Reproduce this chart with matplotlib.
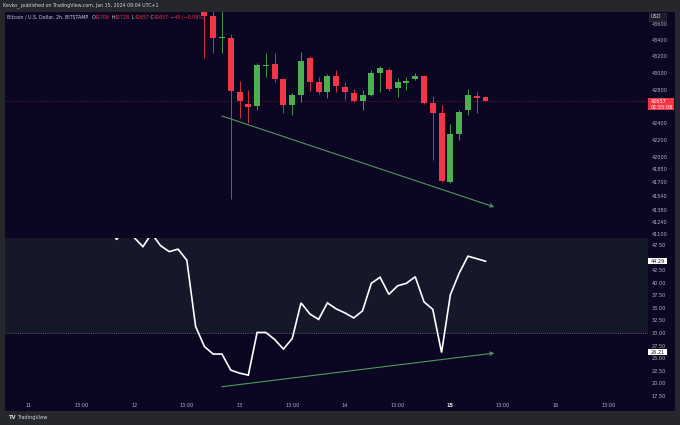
import matplotlib
matplotlib.use('Agg')
import matplotlib.pyplot as plt
from matplotlib.patches import Rectangle
from matplotlib.ticker import NullLocator, NullFormatter

# ---------------- data ----------------
candle_idx = list(range(-4, 29))
opens  = [43850, 43694, 43421, 43428, 42767, 42623, 42602, 43090, 43105, 42923, 42614, 42734,
          43177, 42887, 42774, 42963, 42834, 42762, 42662, 42734, 42996, 43036, 42814, 42883,
          42927, 42967, 42635, 42517, 41700, 42265, 42554, 42722, 42709]
highs  = [44000, 43760, 43780, 43473, 42903, 42794, 43120, 43245, 43238, 42938, 42762, 43258,
          43205, 42955, 42987, 43036, 42890, 42802, 42794, 43036, 43084, 43060, 42935, 42955,
          42996, 42975, 42722, 42614, 42384, 42554, 42802, 42774, 42728]
lows   = [43181, 43238, 43242, 41500, 42459, 42396, 42554, 42955, 42887, 42517, 42496, 42654,
          42782, 42743, 42702, 42774, 42674, 42650, 42554, 42722, 42767, 42780, 42714, 42794,
          42920, 42627, 41961, 41702, 41690, 42198, 42496, 42517, 42657]
closes = [43694, 43428, 43433, 42782, 42662, 42594, 43096, 43096, 42923, 42614, 42734, 43145,
          42895, 42774, 42963, 42843, 42774, 42662, 42734, 42996, 43064, 42802, 42895, 42907,
          42967, 42635, 42517, 41714, 42265, 42535, 42734, 42702, 42657]

rsi_idx = list(range(-15, 29))
rsi = [52.0, 48.6, 51.0, 49.0, 47.2, 49.8, 47.4, 46.2, 46.7, 44.5, 31.3, 27.3, 25.8, 25.8,
       22.6, 22.0, 21.6, 30.1, 30.1, 28.7, 26.8, 28.9, 36.0, 33.8, 32.7, 36.0, 34.8, 34.0,
       33.0, 34.4, 39.9, 41.1, 37.7, 39.4, 39.9, 41.2, 36.2, 34.7, 26.1, 37.6, 41.9, 45.3,
       44.8, 44.29]

price_trend = [(-2.0, 42483), (29.0, 41411)]
rsi_trend = [(-2.0, 19.3), (29.0, 26.0)]

price_ticks = [43600, 43400, 43200, 43000, 42800, 42400, 42200, 42000, 41850, 41700,
               41540, 41380, 41240, 41100]
rsi_ticks = [47.5, 42.5, 40.0, 37.5, 35.0, 32.5, 30.0, 27.5, 25.0, 22.5, 20.0, 17.5]
time_pos = [-24, -18, -12, -6, 0, 6, 12, 18, 24, 30, 36, 42]
time_labels = ['11', '13:00', '12', '13:00', '13', '13:00', '14', '13:00', '15', '13:00',
               '16', '13:00']

last_price = 42657
last_rsi = 44.29
trend_rsi_label = 26.21

# ---------------- style ----------------
W, H = 680, 425
BG = '#0b0622'
OUTER = '#25272d'
RED = '#f23645'
GREEN = '#4caf50'
TREND = '#4f9a5c'
TXT = '#b2b5be'
FS = 3.6

fig = plt.figure(figsize=(W / 100, H / 100), dpi=100)
fig.patch.set_facecolor(OUTER)

def fr(x0, y0, x1, y1):
    return (x0 / W, 1 - y1 / H, (x1 - x0) / W, (y1 - y0) / H)

fx0, fy0, fw, fh = fr(5, 12, 675, 410.7)
fig.patches.append(Rectangle((fx0, fy0), fw, fh, transform=fig.transFigure,
                             facecolor=BG, edgecolor='none', zorder=-5))

XL = (-26.7, 46.5)

# ---- price pane ----
ax1 = fig.add_axes(fr(5, 12, 648, 237.5))
ax1.set_facecolor('none')
ax1.set_yscale('log')
ax1.set_xlim(*XL)
ax1.set_ylim(41057, 43743)
for s in ax1.spines.values():
    s.set_visible(False)
ax1.set_xticks([])
ax1.yaxis.tick_right()
ax1.set_yticks(price_ticks)
ax1.set_yticklabels([str(t) for t in price_ticks])
ax1.yaxis.set_minor_locator(NullLocator())
ax1.yaxis.set_minor_formatter(NullFormatter())
ax1.tick_params(axis='y', length=0, pad=2.8, labelsize=FS, colors=TXT)

ax1.axhline(last_price, color=RED, lw=0.5, ls=(0, (1, 1.5)), alpha=0.55, zorder=1)

for x, o, h, l, c in zip(candle_idx, opens, highs, lows, closes):
    col = GREEN if c >= o else RED
    ax1.vlines(x, l, h, color=col, lw=0.6, zorder=2)
    bot = min(o, c)
    ht = max(abs(c - o), 10)
    ax1.bar(x, ht, bottom=bot, width=0.68, color=col, edgecolor='none', zorder=3)

ax1.annotate('', xy=price_trend[1], xytext=price_trend[0],
             arrowprops=dict(arrowstyle='->', color=TREND, lw=0.8,
                             shrinkA=0, shrinkB=0, mutation_scale=6), zorder=4)

# ---- RSI pane ----
ax2 = fig.add_axes(fr(5, 238, 648, 400))
ax2.set_facecolor('none')
ax2.set_xlim(*XL)
ax2.set_ylim(16.65, 48.92)
for s in ax2.spines.values():
    s.set_visible(False)
ax2.axhspan(30, 70, color='#151829', zorder=0, lw=0)
ax2.axhline(30, color='#787b86', lw=0.5, ls=(0, (1.5, 1.5)), zorder=1)
ax2.yaxis.tick_right()
ax2.set_yticks(rsi_ticks)
ax2.set_yticklabels(['%.2f' % t for t in rsi_ticks])
ax2.tick_params(axis='y', length=0, pad=2.8, labelsize=FS, colors=TXT)
ax2.set_xticks(time_pos)
ax2.set_xticklabels(time_labels)
ax2.tick_params(axis='x', length=0, pad=2.3, labelsize=FS, colors=TXT)
for lab in ax2.get_xticklabels():
    if lab.get_text() == '15':
        lab.set_color('#e0e3eb')
        lab.set_fontweight('bold')

ax2.plot(rsi_idx, rsi, color='white', lw=1.2, zorder=3, solid_joinstyle='miter')
ax2.annotate('', xy=rsi_trend[1], xytext=rsi_trend[0],
             arrowprops=dict(arrowstyle='->', color=TREND, lw=0.8,
                             shrinkA=0, shrinkB=0, mutation_scale=6), zorder=4)

# ---------------- axis badges ----------------
def py_price(p):
    disp = ax1.transData.transform((0, p))
    return H - disp[1]

def py_rsi(v):
    disp = ax2.transData.transform((0, v))
    return H - disp[1]

# current price badge
yc = py_price(last_price)
bx, by, bw, bh = fr(648, yc - 3.2, 674, yc + 9)
fig.patches.append(Rectangle((bx, by), bw, bh, transform=fig.transFigure,
                             facecolor=RED, edgecolor='none', zorder=5))
fig.text(650.5 / W, 1 - yc / H, str(last_price), color='white', fontsize=FS,
         va='center', ha='left', zorder=6)
fig.text(650.5 / W, 1 - (yc + 6) / H, '01:55:08', color='white', fontsize=FS,
         va='center', ha='left', zorder=6)

# RSI badges
for v in (last_rsi, trend_rsi_label):
    yv = py_rsi(v)
    bx, by, bw, bh = fr(648, yv - 3, 667, yv + 3)
    fig.patches.append(Rectangle((bx, by), bw, bh, transform=fig.transFigure,
                                 facecolor='white', edgecolor='none', zorder=5))
    fig.text(650.5 / W, 1 - yv / H, '%.2f' % v, color='#131722', fontsize=FS,
             va='center', ha='left', zorder=6)

# USD box
bx, by, bw, bh = fr(649, 12.5, 666, 20.8)
fig.patches.append(Rectangle((bx, by), bw, bh, transform=fig.transFigure,
                             facecolor='#1c1b2a', edgecolor='#3a3a48', lw=0.4, zorder=5))
fig.text(651 / W, 1 - 16.6 / H, 'USD', color='#d1d4dc', fontsize=FS, va='center',
         ha='left', zorder=6)

# ---------------- header texts ----------------
fig.text(3 / W, 1 - 5.5 / H, 'Kevko_ published on TradingView.com, Jan 15, 2024 09:04 UTC+1',
         color='#d1d4dc', fontsize=3.4, va='center', ha='left')

fig.canvas.draw()
renderer = fig.canvas.get_renderer()
parts = [('Bitcoin / U.S. Dollar, 2h, BITSTAMP  ', '#c8cad2'), ('O', '#c8cad2'),
         ('42709', RED), (' H', '#c8cad2'), ('42728', RED), (' L', '#c8cad2'),
         ('42657', RED), (' C', '#c8cad2'), ('42657', RED), (' \u221240 (\u22120.09%)', RED)]
xcur = 7.0
for s, col in parts:
    t = fig.text(xcur / W, 1 - 17.2 / H, s, color=col, fontsize=3.4, va='center', ha='left',
                 zorder=6)
    bb = t.get_window_extent(renderer=renderer)
    xcur += bb.width

fig.text(8 / W, 1 - 417.5 / H, 'TV', color='#d1d4dc', fontsize=3.8, fontweight='bold',
         va='center', ha='left')
fig.text(17 / W, 1 - 417.5 / H, 'TradingView', color='#d1d4dc', fontsize=3.6,
         va='center', ha='left')

fig.savefig('out.png', dpi=100, facecolor=fig.get_facecolor())
